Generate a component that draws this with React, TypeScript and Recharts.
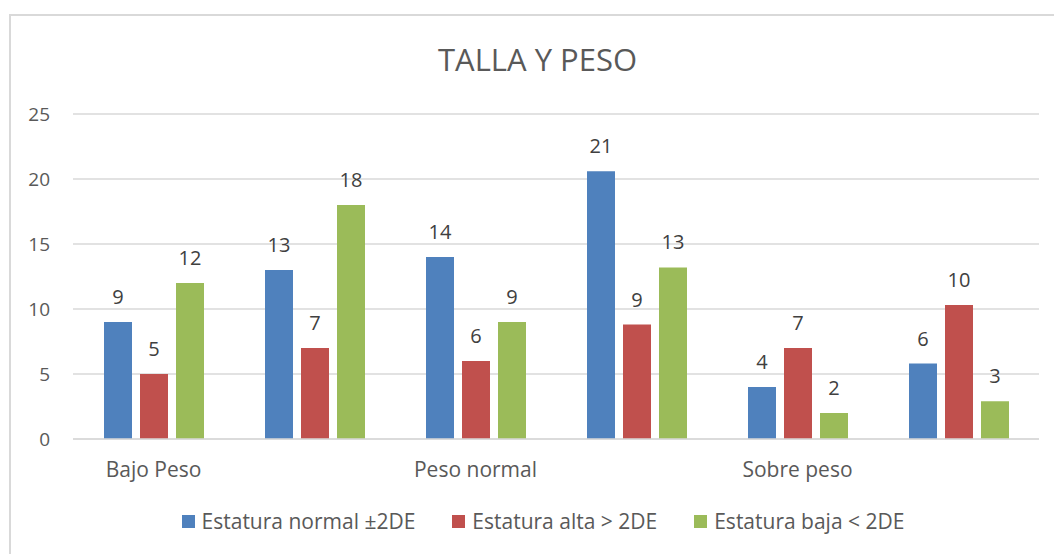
import React from "react";
import { BarChart, Bar, XAxis, YAxis, CartesianGrid, Legend, LabelList } from "recharts";

const categories = ["Bajo Peso", "", "Peso normal", "", "Sobre peso", ""];
const normalValues = [9, 13, 14, 20.6, 4, 5.8];
const altaValues = [5, 7, 6, 8.8, 7, 10.3];
const bajaValues = [12, 18, 9, 13.2, 2, 2.9];
const yTicks = [0, 5, 10, 15, 20, 25];

const seriesNames = ["Estatura normal ±2DE", "Estatura alta > 2DE", "Estatura baja < 2DE"];
const seriesKeys = ["normal", "alta", "baja"];
const seriesColors = ["#4f81bd", "#c0504d", "#9bbb59"];

const data = categories.map((name, i) => ({
  name,
  normal: normalValues[i],
  alta: altaValues[i],
  baja: bajaValues[i],
}));

const FONT = "'Open Sans', sans-serif";
const TEXT = "#595959";

// keep the legend in series order (recharts sorts it by name otherwise)
const renderLegend = (props: any) => {
  const items = [...(props.payload || [])].sort(
    (a: any, b: any) => seriesKeys.indexOf(a.dataKey) - seriesKeys.indexOf(b.dataKey)
  );
  return (
    <div style={{ display: "flex", justifyContent: "center", gap: 37, fontFamily: FONT }}>
      {items.map((entry: any, i: number) => (
        <div key={i} style={{ display: "flex", alignItems: "center", height: 21 }}>
          <span style={{ width: 13, height: 13, background: entry.color, marginRight: 7, display: "inline-block" }} />
          <span style={{ fontSize: 21, lineHeight: "21px", color: TEXT }}>{entry.value}</span>
        </div>
      ))}
    </div>
  );
};

export default function App() {
  return (
    <div style={{ position: "absolute", left: 0, top: 0, width: 1054, height: 554, overflow: "hidden", background: "#fff" }}>
      <div
        style={{
          position: "absolute",
          left: 9,
          top: 14,
          width: 1100,
          height: 600,
          borderTop: "2px solid #d9d9d9",
          borderLeft: "2px solid #d9d9d9",
        }}
      />
      <div
        style={{
          position: "absolute",
          left: 0,
          width: 1075,
          top: 44,
          textAlign: "center",
          fontFamily: FONT,
          fontSize: 31,
          lineHeight: 1,
          color: TEXT,
        }}
      >
        TALLA Y PESO
      </div>
      <BarChart
        width={1054}
        height={554}
        data={data}
        margin={{ top: 114, right: 15, left: 0, bottom: 85 }}
        barCategoryGap={31}
        barGap={8}
      >
        <CartesianGrid vertical={false} stroke="#d9d9d9" strokeWidth={1.5} />
        <XAxis
          dataKey="name"
          height={30}
          interval={0}
          tickLine={false}
          axisLine={{ stroke: "#d9d9d9", strokeWidth: 1.5 }}
          tickSize={0}
          tickMargin={23}
          tick={{ fontSize: 21, fill: TEXT, fontFamily: FONT }}
        />
        <YAxis
          width={73}
          domain={[0, 25]}
          ticks={yTicks}
          interval={0}
          tickLine={false}
          axisLine={false}
          tickSize={0}
          tickMargin={23}
          tick={{ fontSize: 19, fill: TEXT, fontFamily: FONT }}
        />
        <Legend
          verticalAlign="middle"
          align="center"
          content={renderLegend}
          wrapperStyle={{ top: 511, left: 32, width: 1022, bottom: "auto" }}
        />
        {seriesKeys.map((key, i) => (
          <Bar key={key} dataKey={key} name={seriesNames[i]} fill={seriesColors[i]} isAnimationActive={false}>
            <LabelList
              dataKey={key}
              position="top"
              offset={18}
              formatter={(v: any) => Math.round(Number(v))}
              style={{ fontSize: 20, fill: "#404040", fontFamily: FONT }}
            />
          </Bar>
        ))}
      </BarChart>
    </div>
  );
}
